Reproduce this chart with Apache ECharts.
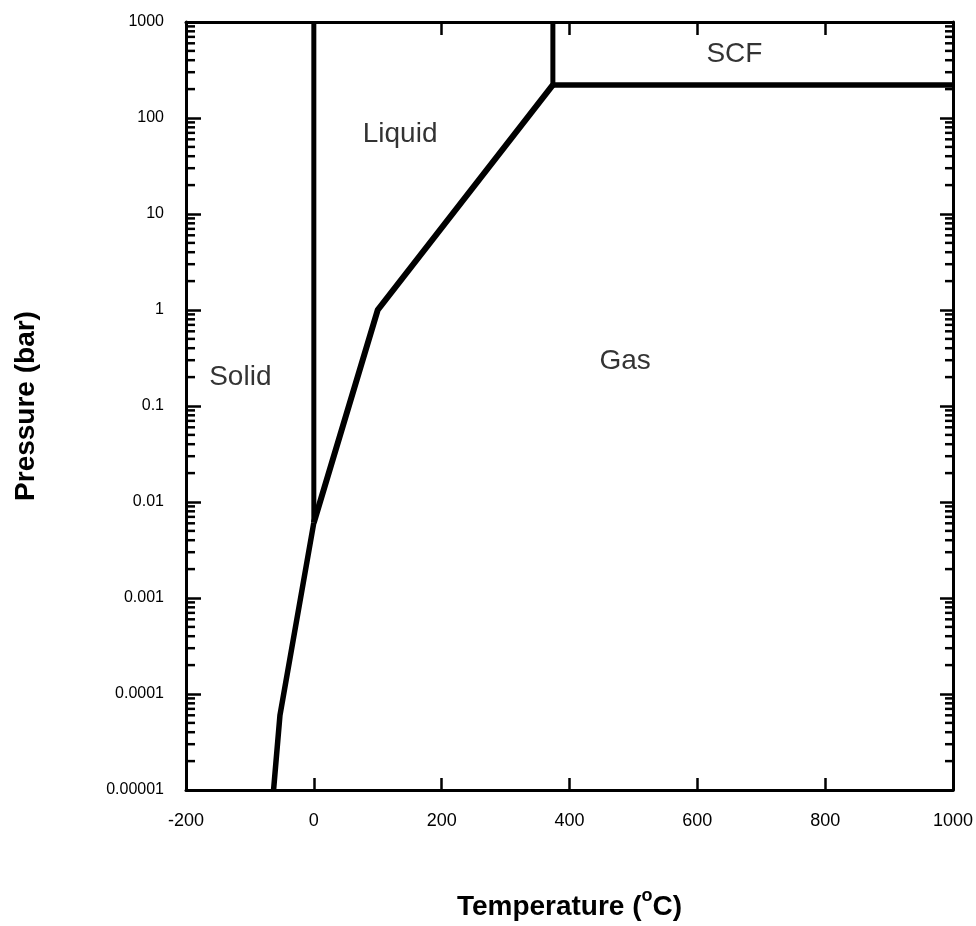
<!DOCTYPE html>
<html>
<head>
<meta charset="utf-8">
<title>Phase diagram of water</title>
<script src="https://cdn.jsdelivr.net/npm/echarts@6/dist/echarts.min.js"></script>
<style>
  html, body { margin: 0; padding: 0; background: #fff; }
  #chart { width: 976px; height: 926px; }
</style>
</head>
<body>
<div id="chart"></div>
<script>
// temperature in degC, pressure in bar
var meltingCurve = [[0, 0.0061], [0, 1000]]
var sublimationCurve = [[-63, 0.00001], [-53, 0.00006], [0, 0.0061]]
var boilingCurve = [[0, 0.0061], [100, 1], [374, 221]]
var criticalIsotherm = [[374, 221], [374, 1000]]
var criticalIsobar = [[374, 221], [1000, 221]]

// phase names, placed at (T, P)
var regionNames = ['Solid', 'Liquid', 'Gas', 'SCF']
var regionPos = [[-115, 0.2], [135, 68], [487, 0.29], [658, 460]]

var xMin = -200
var xMax = 1000
var yTickLabels = ['0.00001', '0.0001', '0.001', '0.01', '0.1', '1', '10', '100', '1000']
var minorSteps = [2, 3, 4, 5, 6, 7, 8, 9]

var FONT = '"Liberation Sans", Arial, sans-serif'

// minor log ticks (2..9 in every decade)
var minorTicks = []
for (var k = -5; k < 3; k++) {
  minorSteps.forEach(function (m) {
    minorTicks.push([xMin, m * Math.pow(10, k)])
  })
}

var chart = echarts.init(document.getElementById('chart'), null, { renderer: 'canvas' })

function lineSeries(data, width) {
  return {
    type: 'line',
    data: data,
    symbol: 'none',
    silent: true,
    clip: false,
    lineStyle: { color: '#000', width: width, join: 'miter' },
    z: 5
  }
}

var frameLine = { onZero: false, lineStyle: { color: '#000', width: 3 } }

var option = {
  backgroundColor: '#fff',
  animation: false,
  textStyle: { fontFamily: FONT, color: '#000' },
  grid: { left: 186, right: 23, top: 22, bottom: 136, containLabel: false },
  xAxis: [
    {
      type: 'value',
      min: xMin,
      max: xMax,
      interval: 200,
      name: 'Temperature ({s|o}C)',
      nameLocation: 'middle',
      nameGap: 97,
      nameTextStyle: {
        fontSize: 28,
        fontWeight: 'bold',
        color: '#000',
        fontFamily: FONT,
        rich: {
          s: { fontSize: 18, fontWeight: 'bold', fontFamily: FONT, color: '#000', verticalAlign: 'middle', padding: [0, 0, 22, 0] }
        }
      },
      axisLine: frameLine,
      axisTick: { inside: true, length: 12, lineStyle: { color: '#000', width: 2.5 } },
      axisLabel: {
        fontSize: 18, color: '#000', margin: 22, fontFamily: FONT,
        formatter: function (v) { return String(v) }
      },
      splitLine: { show: false }
    },
    {
      type: 'value',
      position: 'top',
      min: xMin,
      max: xMax,
      interval: 200,
      axisLine: frameLine,
      axisTick: { inside: true, length: 13, lineStyle: { color: '#000', width: 2.5 } },
      axisLabel: { show: false },
      splitLine: { show: false }
    }
  ],
  yAxis: [
    {
      type: 'log',
      logBase: 10,
      min: 0.00001,
      max: 1000,
      interval: 1,
      name: 'Pressure (bar)',
      nameLocation: 'middle',
      nameGap: 146,
      nameTextStyle: { fontSize: 28, fontWeight: 'bold', color: '#000', fontFamily: FONT },
      axisLine: frameLine,
      axisTick: { inside: true, length: 15, lineStyle: { color: '#000', width: 2.5 } },
      axisLabel: {
        fontSize: 16,
        color: '#000',
        margin: 22,
        fontFamily: FONT,
        formatter: function (v) {
          return yTickLabels[Math.round(Math.log10(v)) + 5]
        }
      },
      splitLine: { show: false }
    },
    {
      type: 'log',
      logBase: 10,
      position: 'right',
      min: 0.00001,
      max: 1000,
      interval: 1,
      axisLine: frameLine,
      axisTick: { inside: true, length: 13, lineStyle: { color: '#000', width: 2.5 } },
      axisLabel: { show: false },
      splitLine: { show: false }
    }
  ],
  series: [
    lineSeries(sublimationCurve, 5.5),
    lineSeries(boilingCurve, 6),
    lineSeries(meltingCurve, 5),
    lineSeries(criticalIsotherm, 5),
    lineSeries(criticalIsobar, 5.5),
    {
      type: 'scatter',
      silent: true,
      symbolSize: 0,
      itemStyle: { color: '#000' },
      data: regionNames.map(function (n, i) {
        return { name: n, value: regionPos[i] }
      }),
      label: {
        show: true,
        position: [0, 0],
        align: 'center',
        verticalAlign: 'middle',
        formatter: '{b}',
        fontSize: 28,
        color: '#000',
        textBorderWidth: 0,
        fontFamily: FONT
      },
      z: 6
    },
    {
      // minor ticks on left and right axes
      type: 'custom',
      silent: true,
      clip: false,
      data: minorTicks,
      renderItem: function (params, api) {
        var left = api.coord([xMin, api.value(1)])
        var right = api.coord([xMax, api.value(1)])
        var style = { stroke: '#000', lineWidth: 2.5 }
        return {
          type: 'group',
          children: [
            { type: 'line', shape: { x1: left[0], y1: left[1], x2: left[0] + 9, y2: left[1] }, style: style },
            { type: 'line', shape: { x1: right[0], y1: right[1], x2: right[0] - 8, y2: right[1] }, style: style }
          ]
        }
      },
      z: 4
    }
  ]
}

chart.setOption(option)
</script>
</body>
</html>
